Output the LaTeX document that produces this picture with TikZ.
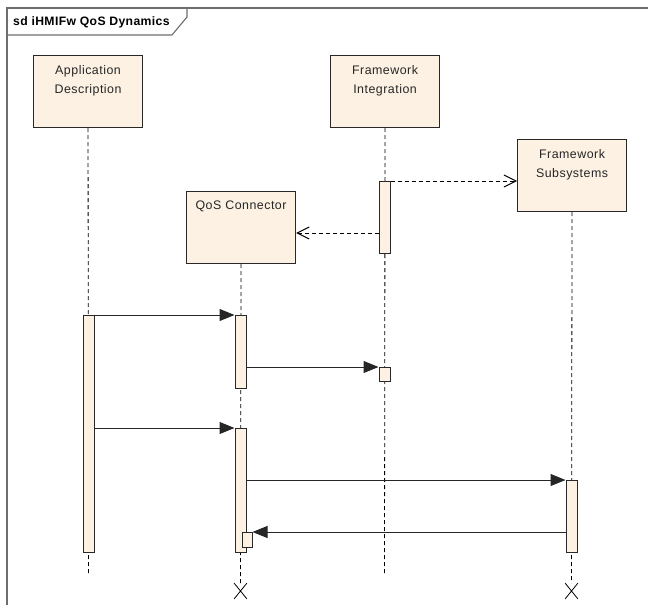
\documentclass[tikz,border=0pt]{standalone}
\usepackage{fontspec}
\setmainfont{Liberation Sans}
\usetikzlibrary{arrows.meta, shapes.misc}
\definecolor{lifefill}{RGB}{252,241,226}
\definecolor{frameline}{RGB}{110,110,110}
\definecolor{boxline}{RGB}{40,40,40}
\tikzset{
  obj/.style={draw=boxline, fill=lifefill, line width=1.1pt, minimum width=109pt, minimum height=72pt, inner sep=0pt, anchor=north west},
  objtxt/.style={align=center, inner sep=0pt, anchor=north, text=black!85, font=\addfontfeature{LetterSpace=4}\fontsize{12.4}{19}\selectfont},
  act/.style={draw=boxline, fill=lifefill, line width=1pt, minimum width=11pt, inner sep=0pt, anchor=north},
  life/.style={dash pattern=on 4pt off 3pt, line width=0.8pt},
  msg/.style={-{Triangle[length=15pt,width=12pt]}, line width=1pt, draw=black!85},
  create/.style={-{Straight Barb[length=12pt,width=12pt]}, dash pattern=on 4pt off 3pt, line width=1pt},
  stopx/.style={cross out, draw, minimum width=12pt, minimum height=15pt, inner sep=0pt, line width=0.8pt}
}
\begin{document}
\begin{tikzpicture}[x=1pt, y=-1pt]
\useasboundingbox (0,0) rectangle (648,605);
% frame
\begin{scope}
\clip (0,0) rectangle (648,605);
\draw[frameline, line width=1.4pt] (7,8) rectangle (660,620);
\end{scope}
\draw[frameline, line width=1.1pt] (7,35) -- (172,35) -- (187,17) -- (187,8);
\node[anchor=west, inner sep=0pt, font=\bfseries\addfontfeature{LetterSpace=3}\fontsize{12.2}{14}\selectfont] (title) at (13,22) {sd iHMIFw QoS Dynamics};

% lifeline heads
\node[obj] (ad) at (33,55) {};
\node[objtxt] (adtxt) at ([yshift=-10pt]ad.north) {Application\\Description};
\node[obj] (fi) at (330,55) {};
\node[objtxt] (fitxt) at ([yshift=-10pt]fi.north) {Framework\\Integration};
\node[obj] (fs) at (517,139) {};
\node[objtxt] (fstxt) at ([yshift=-10pt]fs.north) {Framework\\Subsystems};
\node[obj] (qc) at (186,191) {};
\node[objtxt] (qctxt) at ([yshift=-10pt]qc.north) {QoS Connector};

% lifelines
\coordinate (adend) at (88.5,576);
\coordinate (fiend) at (384.5,576);
\node[stopx] (qcx) at (240.5,591) {};
\node[stopx] (fsx) at (571.5,591) {};
\draw[life] (ad.south) -- (adend);
\draw[life] (fi.south) -- (fiend);
\draw[life] (qc.south) -- (qcx.north);
\draw[life] (fs.south) -- (fsx.north);

% activations
\node[act, minimum height=72pt] (fi1) at (384.5,181) {};
\node[act, minimum height=237pt] (ad1) at (88.5,315) {};
\node[act, minimum height=73pt] (qc1) at (240.5,315) {};
\node[act, minimum height=14pt] (fi2) at (384.5,367) {};
\node[act, minimum height=124pt] (qc2) at (240.5,428) {};
\node[act, minimum height=72pt] (fs1) at (571.5,480) {};
\node[act, minimum width=10pt, minimum height=15pt] (qc3) at (247,532) {};

% messages
\draw[create] (fi1.north east) -- (fi1.north east -| fs.west);
\draw[create] ([yshift=-52pt]fi1.north west) -- ([yshift=-52pt]fi1.north west -| qc.east);
\draw[msg] (ad1.north east) -- (qc1.north west);
\draw[msg] (qc1.east |- fi2.north west) -- (fi2.north west);
\draw[msg] (ad1.east |- qc2.north west) -- (qc2.north west);
\draw[msg] (qc2.east |- fs1.north west) -- (fs1.north west);
\draw[msg] (fs1.west |- qc3.north east) -- (qc3.north east);
\end{tikzpicture}
\end{document}
